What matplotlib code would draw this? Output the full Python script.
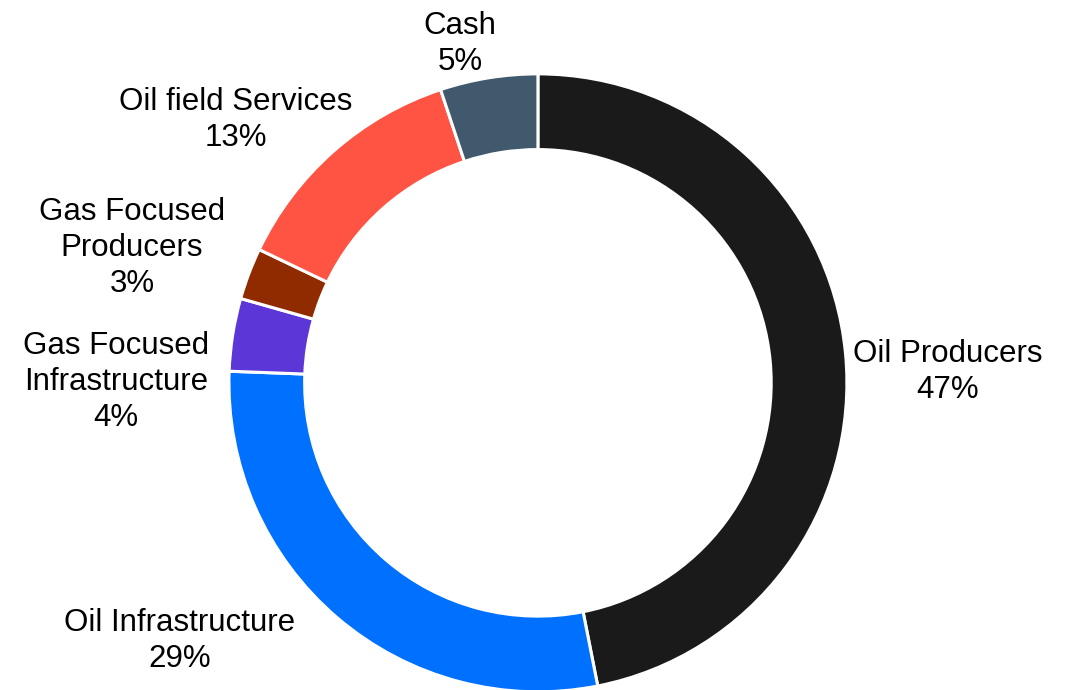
import matplotlib
matplotlib.use("Agg")
import matplotlib.pyplot as plt

# sector weights, clockwise from 12 o'clock
sectors = ["Oil Producers", "Oil Infrastructure", "Gas Focused\nInfrastructure",
           "Gas Focused\nProducers", "Oil field Services", "Cash"]
weights = [46.9, 28.7, 3.8, 2.7, 12.8, 5.1]
colors = ["#1a1a1a", "#0070ff", "#5c36d6", "#902b00", "#ff5343", "#41596d"]

# label centres (axes data units, ring radius = 1)
label_pos = [(1.327, 0.036), (-1.159, -0.835), (-1.366, 0.003),
             (-1.314, 0.437), (-0.977, 0.851), (-0.252, 1.097)]

plt.rcParams["font.family"] = ["Liberation Sans", "DejaVu Sans"]

fig = plt.figure(figsize=(10.74, 6.90), dpi=100)
ax = fig.add_axes([0, 0, 1, 1])

ax.pie(weights, colors=colors, startangle=90, counterclock=False,
       radius=1.0, wedgeprops=dict(width=0.245, edgecolor="white", linewidth=2.2))

total = sum(weights)
for name, w, (x, y) in zip(sectors, weights, label_pos):
    ax.text(x, y, f"{name}\n{round(w / total * 100)}%", ha="center", va="center",
            fontsize=22.5, color="#000000", linespacing=1.27)

ax.set_xlim(-1.741, 1.735)
ax.set_ylim(-0.994, 1.239)
ax.set_aspect("equal")
ax.axis("off")

fig.savefig("out.png", dpi=100)
